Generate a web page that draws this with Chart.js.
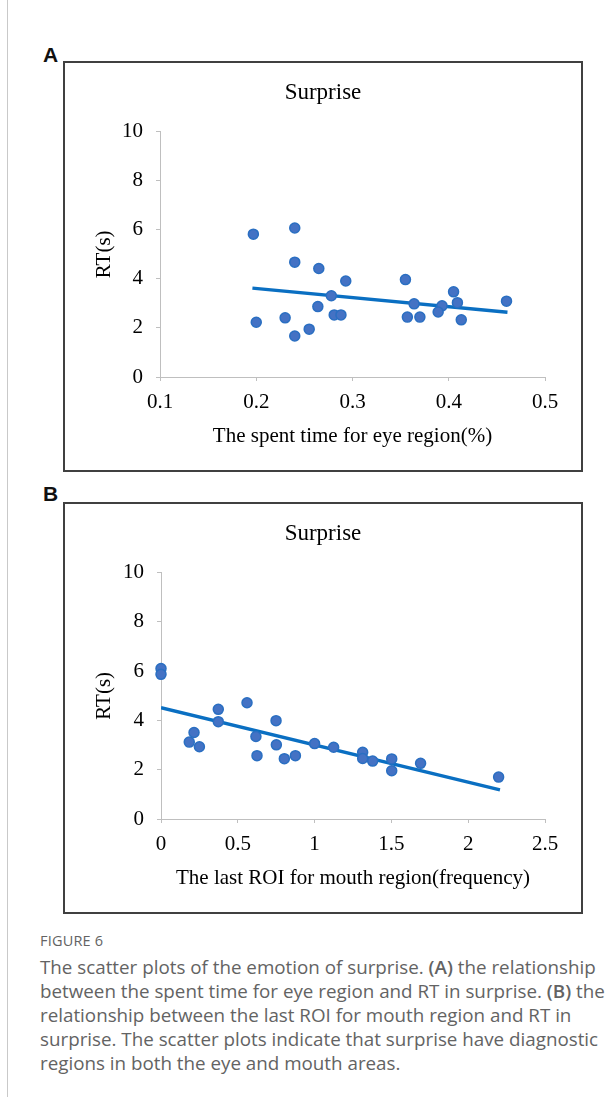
<!DOCTYPE html>
<html>
<head>
<meta charset="utf-8">
<script src="https://cdn.jsdelivr.net/npm/chart.js"></script>
<style>
  body { margin: 0; width: 614px; height: 1097px; position: relative; background: #fff; overflow: hidden; }
  .rule { position: absolute; left: 7px; top: 0; width: 1px; height: 1097px; background: #c9c9c9; }
  .tag { position: absolute; left: 43px; font: bold 21px "Liberation Sans", Arial, sans-serif; line-height: 21px; color: #111; }
  .panel { position: absolute; left: 63px; width: 520px; }
  .panel canvas { position: absolute; left: 0; top: 0; }
  .frame { position: absolute; left: 0; top: 0; right: 0; bottom: 0; border: 2px solid #404040; box-sizing: border-box; pointer-events: none; }
  .caption { position: absolute; left: 40px; top: 930px; width: 574px; font-family: "Open Sans", "Noto Sans", sans-serif; color: #636363; white-space: nowrap; }
  .caption .fig { font-size: 14.5px; line-height: 22px; letter-spacing: 0.2px; }
  .caption p { margin: 3px 0 0 0; font-size: 18.8px; line-height: 24px; }
  .caption b { font-weight: 600; }
</style>
</head>
<body>
<div class="rule"></div>

<div class="tag" style="top:44px">A</div>
<div class="panel" style="top:61px;height:411px">
  <canvas id="chartA" width="520" height="411"></canvas>
  <div class="frame"></div>
</div>

<div class="tag" style="top:483px">B</div>
<div class="panel" style="top:502px;height:412px">
  <canvas id="chartB" width="520" height="412"></canvas>
  <div class="frame"></div>
</div>

<div class="caption">
  <div class="fig">FIGURE 6</div>
  <p>The scatter plots of the emotion of surprise. <b>(A)</b> the relationship<br>between the spent time for eye region and RT in surprise. <b>(B)</b> the<br>relationship between the last ROI for mouth region and RT in<br>surprise. The scatter plots indicate that surprise have diagnostic<br>regions in both the eye and mouth areas.</p>
</div>

<script>
// Panel A: spent time for eye region (%) vs RT
const eyeTime = [0.197, 0.240, 0.240, 0.265, 0.293, 0.278, 0.264, 0.281, 0.288, 0.200, 0.230, 0.255,
                 0.240, 0.355, 0.364, 0.357, 0.370, 0.405, 0.409, 0.393, 0.389, 0.413, 0.460];
const eyeRT = [5.82, 6.07, 4.68, 4.42, 3.91, 3.31, 2.87, 2.53, 2.53, 2.23, 2.41, 1.95,
               1.67, 3.97, 2.98, 2.44, 2.44, 3.47, 3.03, 2.90, 2.65, 2.33, 3.09];
const eyeTrendX = [0.196, 0.461];
const eyeTrendY = [3.62, 2.64];
const eyeTicks = [0.1, 0.2, 0.3, 0.4, 0.5];

// Panel B: last ROI for mouth region (frequency) vs RT
const mouthFreq = [0, 0, 0.373, 0.373, 0.56, 0.215, 0.184, 0.25, 0.749, 0.618, 0.751, 0.625,
                   0.803, 0.875, 1.0, 1.124, 1.313, 1.313, 1.378, 1.502, 1.502, 1.69, 2.198];
const mouthRT = [6.11, 5.87, 4.45, 3.95, 4.72, 3.51, 3.12, 2.93, 3.99, 3.35, 3.01, 2.57,
                 2.45, 2.57, 3.06, 2.91, 2.71, 2.46, 2.35, 2.44, 1.96, 2.26, 1.70];
const mouthTrendX = [0, 2.207];
const mouthTrendY = [4.52, 1.18];
const mouthTicks = [0, 0.5, 1, 1.5, 2, 2.5];

const rtTicks = [0, 2, 4, 6, 8, 10];

Chart.defaults.font.family = '"Liberation Serif", "Times New Roman", serif';
Chart.defaults.color = '#000';

const axisGrey = '#bfbfbf';

function pairs(xs, ys) {
    return xs.map((x, i) => ({ x: x, y: ys[i] }));
}

function makeChart(id, xs, ys, tx, ty, xTicks, xTitle, yAxisWidth) {
    const ctx = document.getElementById(id).getContext('2d');
    return new Chart(ctx, {
        type: 'scatter',
        data: {
            datasets: [{
                data: pairs(xs, ys),
                backgroundColor: '#4472c4',
                borderColor: '#2a6fc2',
                borderWidth: 1.5,
                pointRadius: 5,
                clip: false
            }, {
                type: 'line',
                data: pairs(tx, ty),
                borderColor: '#0a6fc2',
                borderWidth: 3.4,
                pointRadius: 0,
                fill: false
            }]
        },
        options: {
            responsive: false,
            animation: false,
            layout: { padding: 0 },
            plugins: {
                legend: { display: false },
                tooltip: { enabled: false },
                title: {
                    display: true,
                    text: 'Surprise',
                    font: { size: 23, weight: 'normal' },
                    color: '#000',
                    padding: { top: 18, bottom: 25 }
                }
            },
            scales: {
                x: {
                    type: 'linear',
                    min: xTicks[0],
                    max: xTicks[xTicks.length - 1],
                    afterBuildTicks: s => { s.ticks = xTicks.map(v => ({ value: v })); },
                    afterFit: s => { s.height = 95; },
                    ticks: { font: { size: 21 }, padding: 9, callback: v => String(v) },
                    grid: { drawOnChartArea: false, drawTicks: true, tickLength: 4, color: axisGrey },
                    border: { color: axisGrey, width: 1 },
                    title: { display: true, text: xTitle, font: { size: 21 }, padding: { top: 0, bottom: 23 } }
                },
                y: {
                    min: 0,
                    max: 10,
                    afterBuildTicks: s => { s.ticks = rtTicks.map(v => ({ value: v })); },
                    afterFit: s => { s.width = yAxisWidth; },
                    ticks: { font: { size: 21 }, padding: 13 },
                    grid: { drawOnChartArea: false, drawTicks: true, tickLength: 4, color: axisGrey },
                    border: { color: axisGrey, width: 1 },
                    title: { display: true, text: 'RT(s)', font: { size: 21 }, padding: { top: 29, bottom: 0 } }
                },
                // empty right-hand scale, only reserves the space right of the plot
                yRight: {
                    position: 'right',
                    display: true,
                    min: 0,
                    max: 10,
                    afterFit: s => { s.width = 38; },
                    ticks: { display: false },
                    grid: { display: false },
                    border: { display: false }
                }
            }
        }
    });
}

makeChart('chartA', eyeTime, eyeRT, eyeTrendX, eyeTrendY, eyeTicks, 'The spent time for eye region(%)', 97);
makeChart('chartB', mouthFreq, mouthRT, mouthTrendX, mouthTrendY, mouthTicks, 'The last ROI for mouth region(frequency)', 98);
</script>
</body>
</html>
